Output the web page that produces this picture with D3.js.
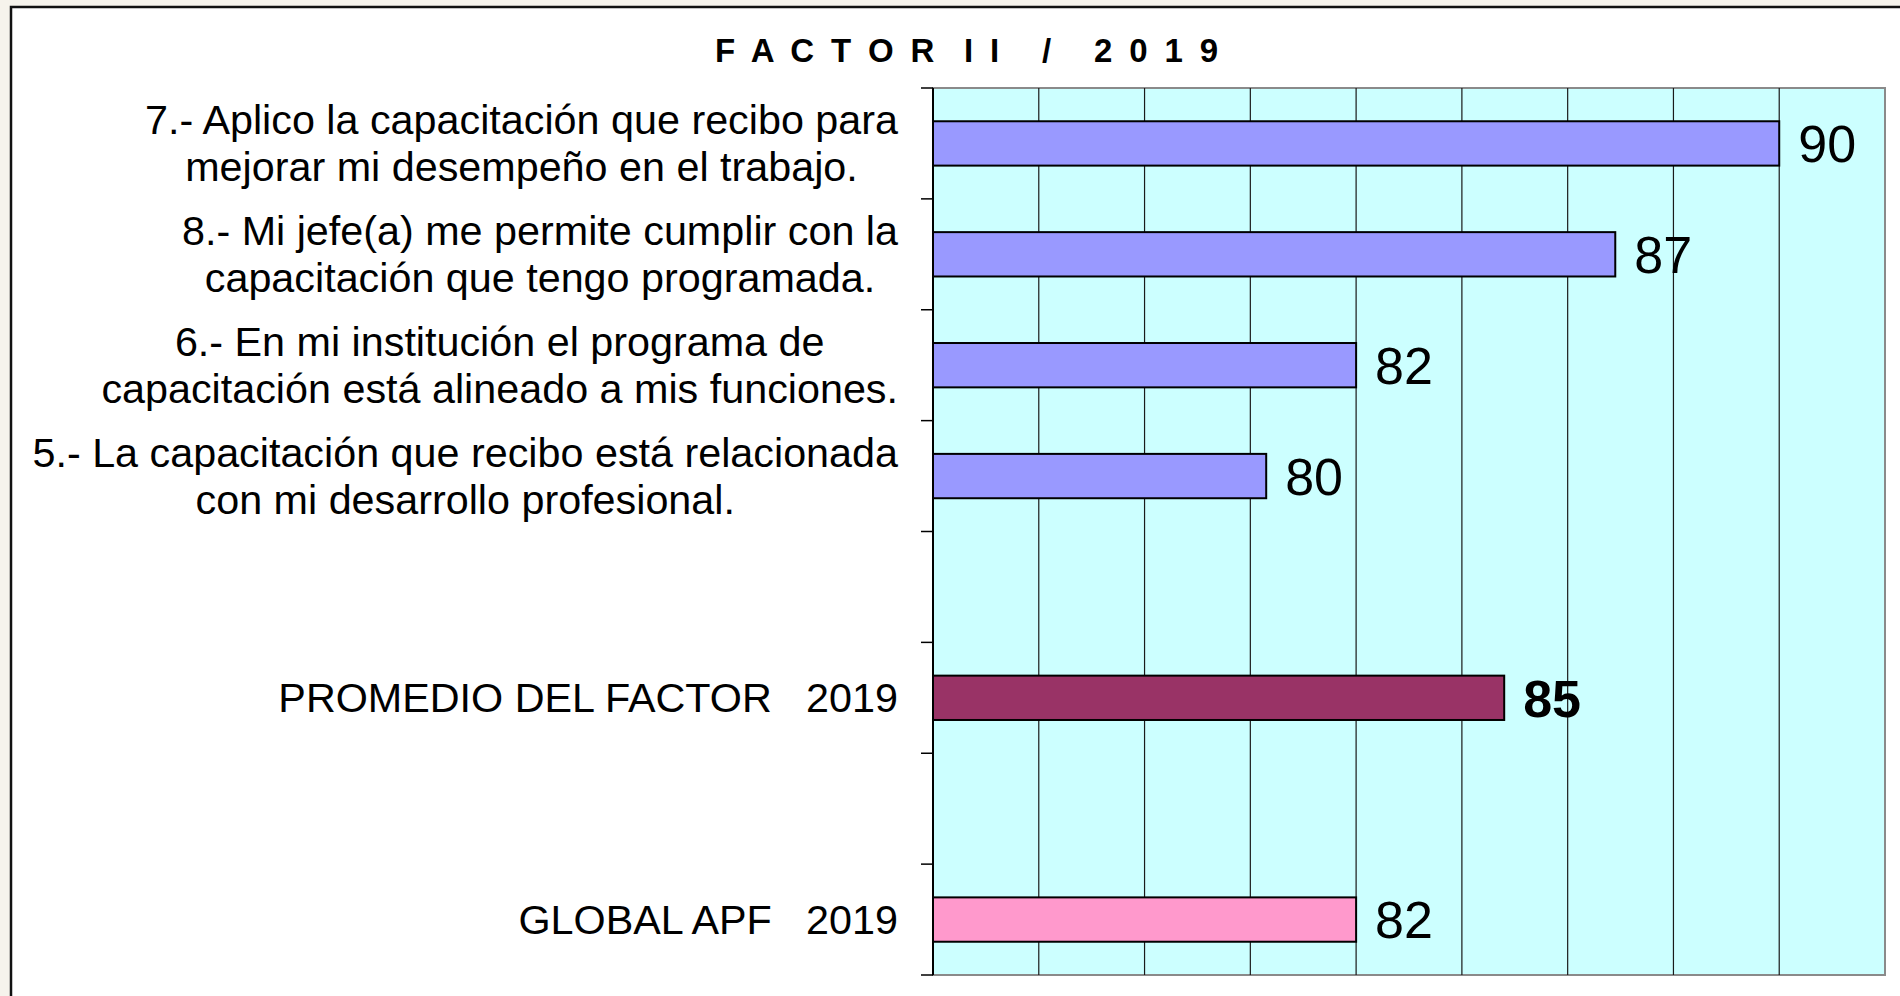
<!DOCTYPE html>
<html lang="es">
<head>
<meta charset="UTF-8" />
<title>Factor II / 2019</title>
<style>
  body {
    margin: 0;
    padding: 0;
    background: #f6f3ec;
    overflow: hidden;
  }
  svg text {
    font-family: "Liberation Sans", Arial, sans-serif;
    white-space: pre;
    fill: #000;
  }
  .title {
    font-family: "Liberation Sans Narrow", "Arial Narrow", "Liberation Sans", sans-serif;
    font-weight: bold;
    font-size: 33px;
  }
  .cat { font-size: 41.3px; }
  .val { font-size: 52px; }
  .val.bold { font-weight: bold; }
</style>
</head>
<body>
<svg id="chart" width="1900" height="996"></svg>

<script src="https://cdn.jsdelivr.net/npm/d3@7"></script>
<script>
  // data (bar order top to bottom, blanks are spacer rows)
  const slots = ["p7", "p8", "p6", "p5", "gap1", "promedio", "gap2", "global"];
  const labels = [
    ["7.- Aplico la capacitación que recibo para", "mejorar mi desempeño en el trabajo."],
    ["8.- Mi jefe(a) me permite cumplir con la", "capacitación que tengo programada."],
    ["6.- En mi institución el programa de", "capacitación está alineado a mis funciones."],
    ["5.- La capacitación que recibo está relacionada", "con mi desarrollo profesional."],
    [],
    ["PROMEDIO DEL FACTOR   2019"],
    [],
    ["GLOBAL APF   2019"]
  ];
  const values = [90, 86.9, 82, 80.3, null, 84.8, null, 82];
  const kinds = ["item", "item", "item", "item", null, "factor", null, "global"];
  const gridTicks = [74, 76, 78, 80, 82, 84, 86, 88, 90, 92];
  const title = "F A C T O R  I I   /   2 0 1 9";

  const fills = { item: "#9999ff", factor: "#993366", global: "#ff99cc" };

  const svg = d3.select("#chart");

  // white slide frame
  svg.append("rect")
    .attr("x", 11).attr("y", 7)
    .attr("width", 1920).attr("height", 1020)
    .attr("fill", "#fff")
    .attr("stroke", "#111")
    .attr("stroke-width", 2.5);

  const plot = { left: 933, right: 1885, top: 88, bottom: 975 };

  const x = d3.scaleLinear().domain([74, 92]).range([plot.left, plot.right]);
  const y = d3.scaleBand().domain(slots).range([plot.top, plot.bottom]).paddingInner(0.6).paddingOuter(0.3);
  const band = d3.scaleBand().domain(slots).range([plot.top, plot.bottom]);

  // plot area
  svg.append("rect")
    .attr("x", plot.left).attr("y", plot.top)
    .attr("width", plot.right - plot.left).attr("height", plot.bottom - plot.top)
    .attr("fill", "#ccffff")
    .attr("stroke", "#8a8a8a")
    .attr("stroke-width", 2);

  // vertical gridlines
  svg.append("g")
    .selectAll("line")
    .data(gridTicks.slice(1, -1))
    .join("line")
    .attr("x1", d => x(d)).attr("x2", d => x(d))
    .attr("y1", plot.top).attr("y2", plot.bottom)
    .attr("stroke", "#1a1a1a")
    .attr("stroke-width", 1.2);

  // category axis with ticks on band boundaries
  const boundaries = slots.map(s => band(s)).concat([plot.bottom]);
  svg.append("line")
    .attr("x1", plot.left).attr("x2", plot.left)
    .attr("y1", plot.top).attr("y2", plot.bottom)
    .attr("stroke", "#000").attr("stroke-width", 2);
  svg.append("g")
    .selectAll("line")
    .data(boundaries)
    .join("line")
    .attr("x1", plot.left - 12).attr("x2", plot.left)
    .attr("y1", d => d).attr("y2", d => d)
    .attr("stroke", "#000").attr("stroke-width", 1.5);

  const rows = slots.map((s, i) => ({ slot: s, lines: labels[i], value: values[i], kind: kinds[i] }));
  const bars = rows.filter(d => d.value != null);

  svg.append("g")
    .selectAll("rect")
    .data(bars)
    .join("rect")
    .attr("x", x(74))
    .attr("y", d => y(d.slot))
    .attr("width", d => x(d.value) - x(74))
    .attr("height", y.bandwidth())
    .attr("fill", d => fills[d.kind])
    .attr("stroke", "#000")
    .attr("stroke-width", 2);

  svg.append("g")
    .selectAll("text")
    .data(bars)
    .join("text")
    .attr("class", d => d.kind === "factor" ? "val bold" : "val")
    .attr("x", d => x(d.value) + 19)
    .attr("y", d => y(d.slot) + y.bandwidth() / 2)
    .attr("dy", "0.36em")
    .text(d => d3.format(".0f")(d.value));

  // category labels: lines centred on each other, block right-aligned
  const labelRight = 898;
  const lineH = 47;
  rows.filter(d => d.lines.length).forEach(d => {
    const g = svg.append("g");
    const cy = band(d.slot) + band.bandwidth() / 2;
    const texts = g.selectAll("text")
      .data(d.lines)
      .join("text")
      .attr("class", "cat")
      .attr("text-anchor", "middle")
      .attr("y", (t, i) => cy + (i - (d.lines.length - 1) / 2) * lineH)
      .attr("dy", "0.35em")
      .text(t => t);
    let w = 0;
    texts.each(function () { w = Math.max(w, this.getComputedTextLength()); });
    texts.attr("x", labelRight - w / 2);
  });

  svg.append("text")
    .attr("class", "title")
    .attr("x", 715)
    .attr("y", 62)
    .attr("textLength", 503)
    .attr("lengthAdjust", "spacing")
    .text(title);
</script>
</body>
</html>
